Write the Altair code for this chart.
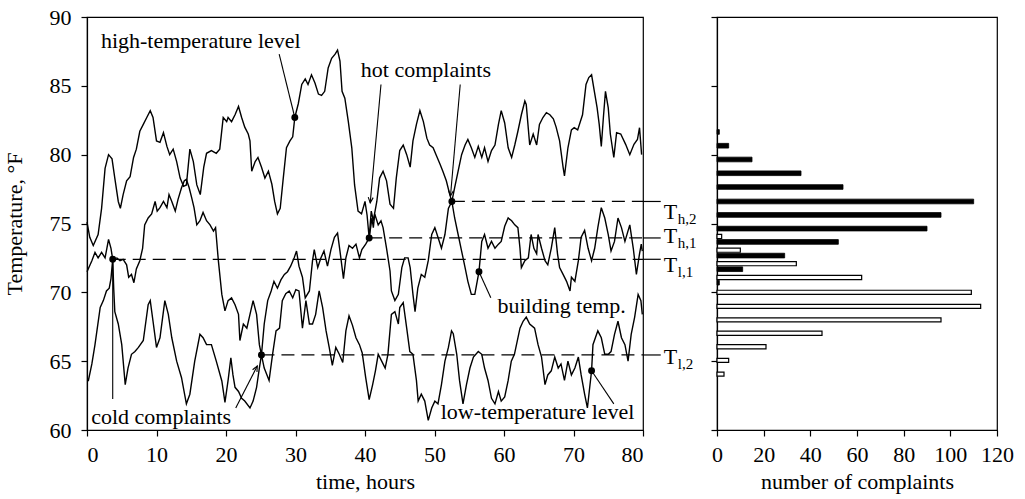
import math
import altair as alt
import pandas as pd

# ---------------- data ----------------
high_level = [
    (0.0, 75.1), (0.4, 74.0), (0.9, 73.4), (1.6, 74.2), (2.1, 76.1), (2.6, 79.0), (3.1, 80.0),
    (3.6, 79.7), (4.0, 78.3), (4.5, 76.6), (4.8, 76.1), (5.2, 77.1), (5.7, 78.1), (6.2, 78.4),
    (6.7, 79.8), (7.1, 80.4), (7.6, 81.7), (8.1, 82.2), (8.6, 82.7), (9.1, 83.2), (9.5, 82.7),
    (10.0, 81.0), (10.5, 80.9), (11.0, 81.6), (11.5, 80.6), (11.9, 80.0), (12.4, 80.4),
    (12.9, 79.5), (13.4, 78.3), (13.9, 77.7), (14.3, 77.8), (14.8, 80.4), (15.3, 79.5),
    (15.8, 77.8), (16.3, 77.1), (16.8, 79.1), (17.2, 80.1), (17.9, 80.3), (18.6, 80.1),
    (19.1, 80.4), (19.6, 82.7), (20.1, 82.4), (20.3, 82.7), (20.8, 82.4), (21.3, 82.9),
    (21.8, 83.5), (22.25, 82.7), (22.7, 82.0), (23.2, 81.5), (23.45, 81.0), (23.7, 78.8),
    (24.2, 79.5), (24.6, 79.8), (25.1, 79.1), (25.6, 78.3), (26.1, 78.8), (26.6, 77.85),
    (27.0, 76.6), (27.4, 75.7), (27.8, 76.1), (28.2, 78.1), (28.7, 80.5), (29.2, 81.0),
    (29.6, 81.3), (29.9, 82.7), (30.4, 83.7), (30.9, 85.1), (31.4, 85.5), (31.8, 85.1),
    (32.3, 85.8), (32.8, 85.2), (33.3, 84.4), (33.75, 84.3), (34.2, 84.6), (34.7, 86.3),
    (35.2, 87.0), (35.7, 87.3), (36.05, 87.6), (36.4, 86.8), (36.7, 84.6), (37.1, 84.1),
    (37.6, 82.4), (38.1, 80.5), (38.5, 77.8), (39.0, 75.9), (39.5, 75.7), (40.0, 76.6),
    (40.3, 75.6), (40.6, 73.95), (40.9, 75.9), (41.2, 75.2), (41.7, 76.6), (42.1, 78.3),
    (42.6, 78.8), (43.1, 78.1), (43.6, 76.4), (44.1, 76.1), (44.5, 78.3), (45.0, 80.3),
    (45.5, 80.7), (46.0, 80.0), (46.5, 79.1), (46.9, 81.0), (47.4, 82.2), (47.9, 83.2),
    (48.4, 82.4), (48.9, 81.2), (49.3, 80.7), (49.8, 80.5), (50.3, 79.9), (50.8, 79.3),
    (51.2, 78.8), (51.7, 78.1), (52.2, 77.1), (52.5, 76.6), (52.9, 77.6), (53.4, 78.8),
    (53.9, 80.0), (54.4, 80.7), (54.8, 81.1), (55.3, 80.5), (55.8, 79.8), (56.3, 80.6),
    (56.8, 79.8), (57.2, 80.5), (57.7, 79.5), (58.2, 80.3), (58.7, 80.7), (59.2, 82.2),
    (59.6, 83.2), (60.1, 82.3), (60.6, 80.5), (61.1, 79.8), (61.55, 80.7), (62.0, 81.7),
    (62.5, 82.9), (63.0, 83.9), (63.2, 83.65), (63.7, 80.7), (64.2, 81.5), (64.7, 80.7),
    (65.1, 82.2), (65.6, 82.7), (66.1, 83.05), (66.6, 82.9), (67.1, 82.6), (67.5, 82.0),
    (68.0, 81.0), (68.5, 79.1), (68.7, 78.45), (69.2, 80.5), (69.7, 81.8), (70.1, 81.96),
    (70.6, 81.8), (71.3, 82.9), (71.8, 85.1), (72.2, 85.6), (72.6, 85.8), (73.0, 84.6),
    (73.4, 83.4), (73.7, 82.2), (74.0, 80.6), (74.3, 82.7), (74.6, 84.6), (75.0, 83.4),
    (75.3, 81.5), (75.8, 79.8), (76.2, 81.6), (76.8, 81.5), (77.5, 80.75), (78.1, 80.0),
    (78.7, 80.75), (79.2, 81.1), (79.5, 81.96), (79.8, 80.0),
]

building_temp = [
    (0.0, 71.5), (0.7, 72.3), (1.15, 72.9), (1.6, 72.5), (2.1, 72.9), (2.6, 72.5), (3.1, 73.85),
    (3.45, 73.2), (3.7, 72.4), (4.3, 72.5), (4.75, 72.3), (5.2, 72.4), (5.7, 72.0), (6.0, 71.1),
    (6.4, 71.3), (6.75, 70.7), (7.1, 71.7), (7.6, 72.3), (8.0, 73.2), (8.3, 74.9), (8.8, 75.4),
    (9.3, 75.7), (9.8, 76.6), (10.1, 75.9), (10.5, 76.15), (11.0, 76.6), (11.5, 76.15),
    (11.8, 77.1), (12.2, 76.6), (12.7, 75.9), (13.1, 76.75), (13.6, 77.6), (14.0, 78.1),
    (14.3, 78.2), (14.7, 77.6), (15.05, 76.9), (15.4, 76.15), (15.8, 74.9), (16.25, 75.2),
    (16.7, 75.8), (17.2, 75.2), (17.7, 74.9), (18.2, 74.45), (18.5, 74.7), (18.9, 72.3),
    (19.4, 69.85), (19.85, 68.65), (20.3, 69.4), (20.8, 69.6), (21.3, 69.1), (21.8, 68.4),
    (22.0, 66.5), (22.5, 67.7), (23.0, 67.4), (23.45, 68.4), (23.9, 69.4), (24.4, 68.4),
    (24.8, 66.2), (25.1, 65.45), (25.5, 67.7), (26.0, 69.4), (26.5, 70.1), (26.9, 70.8),
    (27.4, 70.3), (27.9, 70.9), (28.4, 71.3), (28.85, 71.5), (29.3, 71.9), (29.8, 72.5),
    (30.15, 73.0), (30.5, 71.9), (31.0, 71.1), (31.4, 69.6), (32.0, 70.1), (32.45, 72.3),
    (32.7, 73.1), (33.2, 71.8), (33.65, 72.5), (34.1, 73.0), (34.6, 71.9), (35.1, 73.1),
    (35.6, 74.0), (36.05, 74.3), (36.4, 73.0), (36.9, 71.0), (37.25, 72.5), (37.7, 73.4),
    (38.2, 73.2), (38.7, 73.5), (39.2, 72.5), (39.55, 73.1), (40.1, 73.5), (40.6, 73.95),
    (41.0, 75.4), (41.2, 74.7), (41.4, 75.7), (41.9, 74.9), (42.3, 75.2), (42.6, 74.7),
    (43.1, 73.2), (43.6, 71.55), (43.8, 70.1), (44.3, 69.4), (44.8, 69.85), (45.3, 71.8),
    (45.7, 72.5), (46.2, 72.5), (46.5, 71.8), (46.9, 69.85), (47.2, 68.6), (47.6, 70.3),
    (48.1, 71.3), (48.6, 71.1), (49.1, 72.3), (49.6, 74.2), (50.05, 74.7), (50.5, 74.0),
    (51.0, 73.2), (51.5, 74.2), (52.0, 76.1), (52.5, 76.6), (52.9, 75.4), (53.4, 74.2),
    (53.9, 73.0), (54.4, 71.8), (54.8, 70.8), (55.3, 69.85), (55.8, 69.85), (56.4, 71.5),
    (56.8, 73.7), (57.2, 74.2), (57.7, 73.2), (58.2, 73.7), (58.7, 73.2), (59.2, 73.5),
    (59.6, 73.7), (60.1, 74.8), (60.6, 75.4), (61.1, 75.2), (61.55, 74.9), (62.0, 74.7),
    (62.3, 73.2), (62.5, 71.8), (63.0, 72.3), (63.5, 72.5), (63.9, 74.2), (64.3, 73.2),
    (64.7, 72.8), (64.9, 74.2), (65.4, 73.2), (65.9, 72.3), (66.3, 72.0), (66.8, 73.2),
    (67.3, 74.7), (67.7, 72.8), (68.0, 71.8), (68.5, 71.3), (69.0, 70.8), (69.5, 70.1),
    (69.7, 71.1), (70.2, 70.8), (70.7, 72.3), (71.1, 74.0), (71.6, 74.5), (72.1, 73.2),
    (72.6, 72.3), (73.05, 73.2), (73.5, 74.7), (74.0, 76.15), (74.5, 75.4), (75.0, 74.2),
    (75.4, 73.0), (75.9, 73.7), (76.4, 75.4), (76.9, 74.7), (77.4, 73.7), (78.1, 74.9),
    (78.6, 73.2), (79.05, 71.3), (79.5, 72.8), (79.75, 73.5), (79.9, 73.0),
]

low_level = [
    (0.0, 63.6), (0.2, 63.6), (0.7, 64.8), (1.15, 66.2), (1.9, 68.9), (2.35, 69.4), (2.8, 70.1),
    (3.2, 70.3), (3.45, 71.0), (3.7, 72.4), (3.85, 70.2), (4.0, 68.6), (4.5, 67.7), (5.0, 66.2),
    (5.5, 63.3), (5.9, 64.5), (6.4, 65.5), (6.9, 65.7), (7.4, 66.0), (8.1, 66.5), (8.8, 69.1),
    (9.1, 69.4), (9.5, 67.9), (10.0, 66.0), (10.5, 66.7), (11.2, 69.4), (11.7, 68.4),
    (12.2, 66.7), (12.9, 65.0), (13.6, 63.8), (14.3, 61.9), (14.8, 62.6), (15.5, 65.0),
    (16.25, 66.95), (16.7, 66.7), (17.2, 66.2), (17.9, 66.2), (18.6, 65.0), (19.4, 63.56),
    (19.85, 62.0), (20.3, 63.6), (20.7, 65.25), (21.0, 64.0), (21.3, 63.1), (21.8, 62.8),
    (22.25, 62.3), (22.7, 62.1), (23.45, 61.6), (23.9, 62.1), (24.4, 63.1), (24.8, 64.5),
    (25.1, 65.45), (25.5, 64.5), (26.2, 63.6), (26.7, 65.5), (27.2, 67.2), (27.7, 67.4),
    (28.1, 69.4), (28.6, 69.9), (29.1, 70.1), (29.6, 69.6), (30.05, 70.2), (30.5, 70.1),
    (31.0, 67.4), (31.5, 69.4), (32.0, 67.7), (32.45, 67.7), (32.9, 68.4), (33.4, 70.1),
    (33.9, 68.9), (34.4, 67.2), (34.85, 66.0), (35.3, 64.7), (35.8, 66.0), (36.3, 65.5),
    (36.8, 64.9), (37.25, 67.2), (37.7, 68.3), (38.2, 67.6), (38.7, 66.7), (39.2, 66.2),
    (39.6, 65.6), (40.1, 63.8), (40.6, 62.2), (41.1, 63.3), (41.5, 64.3), (41.9, 65.5),
    (42.4, 65.0), (42.9, 64.5), (43.3, 65.5), (43.8, 68.4), (44.3, 68.6), (44.8, 67.7),
    (45.0, 68.9), (45.5, 69.25), (46.0, 67.4), (46.45, 65.7), (46.9, 65.5), (47.4, 63.6),
    (47.65, 62.1), (48.1, 62.6), (48.6, 62.1), (49.1, 60.7), (49.6, 61.6), (50.05, 62.1),
    (50.5, 61.9), (51.0, 63.3), (51.5, 65.0), (52.0, 66.0), (52.45, 67.2), (52.7, 67.0),
    (53.2, 65.5), (53.6, 63.6), (54.1, 61.9), (54.6, 63.3), (55.1, 64.5), (55.6, 65.3),
    (56.3, 65.7), (56.8, 65.5), (57.2, 64.5), (57.7, 63.6), (58.2, 62.3), (58.7, 61.9),
    (59.2, 62.8), (59.6, 62.1), (60.1, 62.4), (60.6, 63.6), (61.05, 65.0), (61.5, 65.5),
    (62.3, 67.4), (62.75, 67.9), (63.2, 68.2), (63.7, 67.7), (64.4, 67.4), (64.9, 66.2),
    (65.4, 65.3), (65.9, 63.3), (66.3, 64.0), (66.8, 64.3), (67.3, 65.3), (67.8, 64.5),
    (68.2, 64.8), (68.7, 63.6), (69.2, 65.0), (69.7, 64.0), (70.2, 64.5), (70.7, 65.3),
    (71.1, 64.0), (71.6, 62.6), (72.0, 61.6), (72.6, 64.3), (72.8, 66.2), (73.5, 67.2),
    (74.0, 66.7), (74.5, 65.5), (75.0, 65.5), (75.4, 65.7), (75.9, 66.95), (76.4, 67.9),
    (76.9, 66.7), (77.4, 66.2), (77.85, 65.0), (78.3, 66.95), (78.8, 68.2), (79.3, 69.85),
    (79.7, 69.4), (79.9, 68.4),
]

threshold_subscripts = ["h,2", "h,1", "l,1", "l,2"]
threshold_values = [76.6, 73.95, 72.4, 65.45]
threshold_start_hours = [52.5, 40.6, 3.7, 25.1]
threshold_label_temps = [75.84, 74.1, 71.95, 65.27]

dot_hours = [29.9, 40.6, 52.5, 3.7, 25.1, 56.4, 72.6]
dot_temps = [82.7, 73.95, 76.6, 72.4, 65.45, 71.5, 64.3]

note_texts = ["high-temperature level", "hot complaints", "cold complaints",
              "building temp.", "low-temperature level"]
note_hours = [2.0, 39.4, 0.6, 59.06, 50.9]
note_temps = [87.77, 85.64, 60.45, 68.53, 60.78]

# connector lines: start (hour, temp) -> end (hour, temp), arrowhead at end?
conn_start_h = [27.65, 42.3, 53.7, 3.7, 21.4, 56.4, 72.6]
conn_start_t = [87.3, 85.1, 85.1, 62.25, 61.6, 71.5, 64.3]
conn_end_h = [29.9, 40.75, 52.3, 3.7, 24.5, 58.1, 75.8]
conn_end_t = [82.7, 76.5, 77.0, 72.4, 64.65, 69.6, 61.9]
conn_head = [False, True, True, False, True, False, False]

hot_bin_temps = [81.65, 80.65, 79.65, 78.65, 77.65, 76.6, 75.62, 74.63, 73.66, 72.67, 71.68, 70.7]
hot_counts = [1, 5, 15, 36, 54, 110, 96, 90, 52, 29, 11, 1]
cold_bin_temps = [74.06, 73.06, 72.08, 71.08, 70.0, 68.98, 68.0, 67.03, 66.05, 65.06, 64.06]
cold_counts = [2, 10, 34, 62, 109, 113, 96, 45, 21, 5, 3]

# ---------------- styling ----------------
FONT = "Liberation Serif"
FS = 22
LEFT_W, RIGHT_W, H = 556, 280, 413
X_MAX_H = 80
PX_PER_H = LEFT_W / 80.0
PX_PER_T = H / 30.0

frames = []
for name, pts in [("high", high_level), ("building", building_temp), ("low", low_level)]:
    frames.append(pd.DataFrame({"hour": [p[0] for p in pts], "temp": [p[1] for p in pts], "series": name}))
lines_df = pd.concat(frames, ignore_index=True)

thr_df = pd.DataFrame({
    "sub": threshold_subscripts, "value": threshold_values, "start": threshold_start_hours,
    "end": [X_MAX_H] * 4, "stub_end": [82.55] * 4, "label_x": [82.98] * 4,
    "label_y": threshold_label_temps, "T": ["T"] * 4,
})
dots_df = pd.DataFrame({"hour": dot_hours, "temp": dot_temps})
notes_df = pd.DataFrame({"text": note_texts, "hour": note_hours, "temp": note_temps})
conn_df = pd.DataFrame({"h1": conn_start_h, "t1": conn_start_t, "h2": conn_end_h, "t2": conn_end_t,
                        "head": conn_head})
conn_df["angle"] = [
    (math.degrees(math.atan2((b - a) * PX_PER_H, (d - c) * PX_PER_T)) + 360) % 360
    for a, b, c, d in zip(conn_df.h1, conn_df.h2, conn_df.t1, conn_df.t2)
]
heads_df = conn_df[conn_df["head"]]

xs = alt.Scale(domain=[0, 80], nice=False, zero=False)
ys = alt.Scale(domain=[60, 90], nice=False, zero=False)

x_axis = alt.Axis(values=list(range(0, 81, 10)), title="time, hours", grid=False,
                  tickSize=6, labelPadding=8, titlePadding=6, labelOverlap=False)
y_axis = alt.Axis(values=[60, 65, 70, 75, 80, 85, 90], title="Temperature, °F", grid=False,
                  tickSize=6, labelPadding=10, titlePadding=23, labelOverlap=False)

base_x = alt.X("hour:Q", scale=xs, axis=x_axis)
base_y = alt.Y("temp:Q", scale=ys, axis=y_axis)

lines = alt.Chart(lines_df).mark_line(color="black", strokeWidth=1.4).encode(
    x=base_x, y=base_y, detail="series:N", order="hour:Q")

dashed = alt.Chart(thr_df).mark_rule(color="black", strokeWidth=1.2, strokeDash=[13, 7]).encode(
    x=alt.X("start:Q", scale=xs), x2="end:Q", y=alt.Y("value:Q", scale=ys))
stubs = alt.Chart(thr_df).mark_rule(color="black", strokeWidth=1.2).encode(
    x=alt.X("end:Q", scale=xs), x2="stub_end:Q", y=alt.Y("value:Q", scale=ys))
t_text = alt.Chart(thr_df).mark_text(font=FONT, fontSize=FS, align="left", baseline="middle",
                                     color="black").encode(
    x=alt.X("label_x:Q", scale=xs), y=alt.Y("label_y:Q", scale=ys), text="T:N")
t_sub = alt.Chart(thr_df).mark_text(font=FONT, fontSize=15, align="left", baseline="middle",
                                    color="black", dx=14, dy=7).encode(
    x=alt.X("label_x:Q", scale=xs), y=alt.Y("label_y:Q", scale=ys), text="sub:N")

conns = alt.Chart(conn_df).mark_rule(color="black", strokeWidth=1.1).encode(
    x=alt.X("h1:Q", scale=xs), y=alt.Y("t1:Q", scale=ys), x2="h2:Q", y2="t2:Q")
heads = alt.Chart(heads_df).mark_point(shape="M-0.45,1L0,0L0.45,1", filled=False, size=120,
                                       color="black", strokeWidth=1.1, opacity=1).encode(
    x=alt.X("h2:Q", scale=xs), y=alt.Y("t2:Q", scale=ys), angle=alt.Angle("angle:Q", scale=None))
dots = alt.Chart(dots_df).mark_circle(size=48, color="black", opacity=1).encode(
    x=alt.X("hour:Q", scale=xs), y=alt.Y("temp:Q", scale=ys))
notes = alt.Chart(notes_df).mark_text(font=FONT, fontSize=FS, align="left", baseline="alphabetic",
                                      color="black").encode(
    x=alt.X("hour:Q", scale=xs), y=alt.Y("temp:Q", scale=ys), text="text:N")

left = alt.layer(lines, dashed, stubs, t_text, t_sub, conns, heads, dots, notes).properties(
    width=LEFT_W, height=H)

hot_df = pd.DataFrame({"temp": hot_bin_temps, "count": hot_counts})
cold_df = pd.DataFrame({"temp": cold_bin_temps, "count": cold_counts})

cx = alt.Scale(domain=[0, 120], nice=False)
cx_axis = alt.Axis(values=list(range(0, 121, 20)), title="number of complaints", grid=False,
                   tickSize=6, labelPadding=8, titlePadding=6, labelOverlap=False, labelFlush=False)
cy_axis = alt.Axis(values=[60, 65, 70, 75, 80, 85, 90], labels=False, title=None, grid=False,
                   tickSize=6)

hot_bars = alt.Chart(hot_df).transform_calculate(
    lo="datum.temp - 0.17", hi="datum.temp + 0.17", zero="0").mark_bar(
    color="black", stroke="black", strokeWidth=0.8).encode(
    x=alt.X("count:Q", scale=cx, axis=cx_axis), x2="zero:Q",
    y=alt.Y("lo:Q", scale=ys, axis=cy_axis), y2="hi:Q")
cold_bars = alt.Chart(cold_df).transform_calculate(
    lo="datum.temp - 0.15", hi="datum.temp + 0.15", zero="0").mark_bar(
    fill="white", stroke="black", strokeWidth=1.2).encode(
    x=alt.X("count:Q", scale=cx, axis=cx_axis), x2="zero:Q",
    y=alt.Y("lo:Q", scale=ys, axis=cy_axis), y2="hi:Q")

right = alt.layer(hot_bars, cold_bars).properties(width=RIGHT_W, height=H)

chart = alt.hconcat(left, right, spacing=74, bounds="flush").properties(
    padding={"left": 2, "top": 5, "right": 5, "bottom": 5},
    background="white",
).configure_view(stroke="black", strokeWidth=1.2).configure_axis(
    domainColor="black", domainWidth=1.2, tickColor="black", tickWidth=1.2,
    labelFont=FONT, labelFontSize=FS, labelColor="black",
    titleFont=FONT, titleFontSize=FS, titleFontWeight="normal", titleColor="black",
).configure_text(font=FONT)

chart.save("out.html", embed_options={"renderer": "svg", "actions": False})
